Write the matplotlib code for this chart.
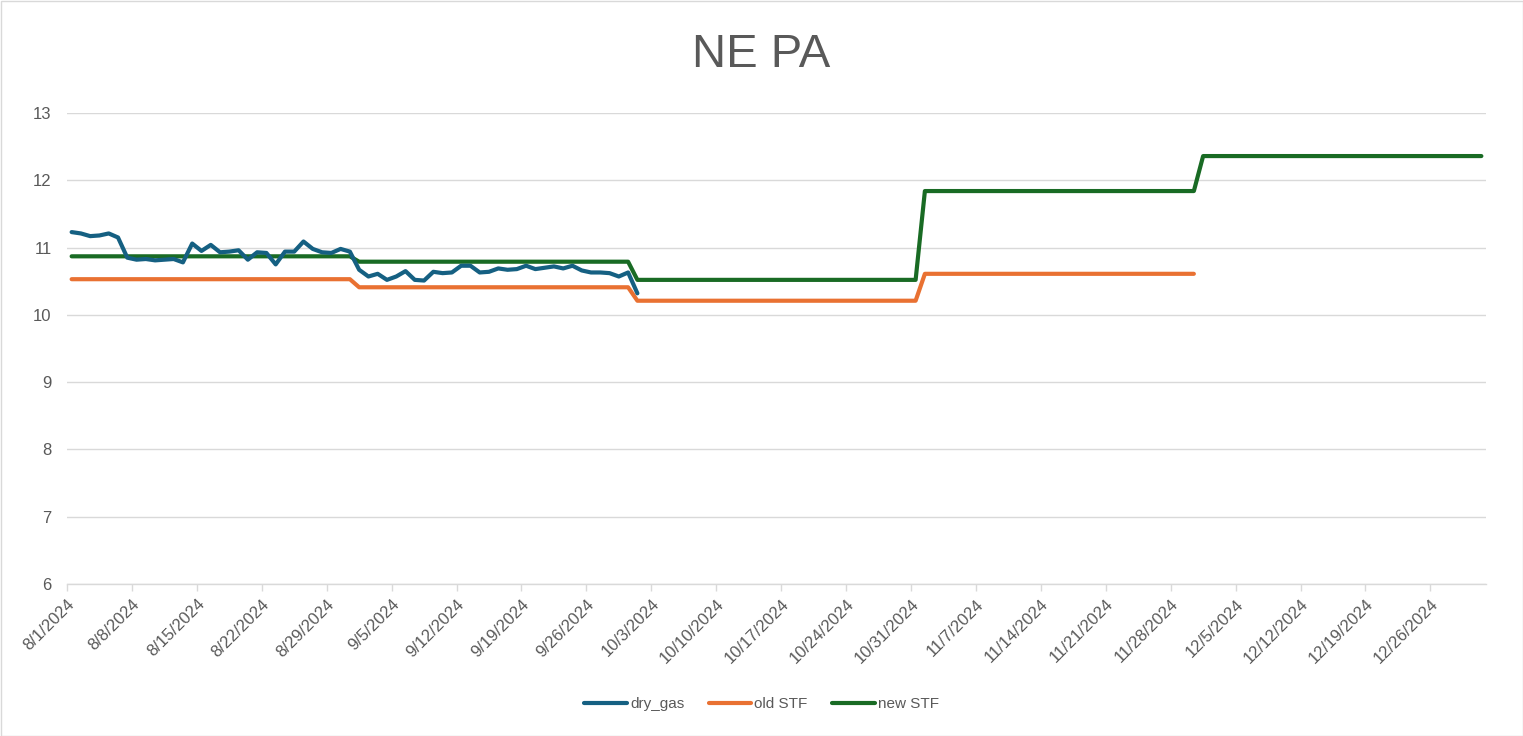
import matplotlib
matplotlib.use("Agg")
import matplotlib.pyplot as plt
import numpy as np
import pandas as pd
from matplotlib.patches import Rectangle

# ---- data ----
title = "NE PA"
start_date = "2024-08-01"
dry_gas = [11.23, 11.21, 11.17, 11.18, 11.21, 11.15, 10.85, 10.82, 10.83, 10.81,
           10.82, 10.83, 10.78, 11.06, 10.95, 11.04, 10.93, 10.94, 10.96, 10.82,
           10.93, 10.92, 10.75, 10.94, 10.94, 11.09, 10.98, 10.93, 10.92, 10.98,
           10.94, 10.67, 10.57, 10.61, 10.52, 10.57, 10.65, 10.52, 10.51, 10.64,
           10.62, 10.63, 10.73, 10.73, 10.63, 10.64, 10.69, 10.67, 10.68, 10.73,
           10.68, 10.70, 10.72, 10.69, 10.73, 10.66, 10.63, 10.63, 10.62, 10.57,
           10.63, 10.32]
months = ["2024-08", "2024-09", "2024-10", "2024-11", "2024-12"]
old_stf_monthly = [10.53, 10.41, 10.21, 10.61]          # Aug-Nov
new_stf_monthly = [10.87, 10.79, 10.52, 11.84, 12.36]   # Aug-Dec
series_names = ["dry_gas", "old STF", "new STF"]
colors = ["#156082", "#E97132", "#196B24"]

# ---- expand monthly values to daily series ----
def daily_from_monthly(vals):
    dates, out = [], []
    for m, v in zip(months, vals):
        p = pd.Period(m, freq="M")
        d = pd.date_range(p.start_time, p.end_time.normalize(), freq="D")
        dates.extend(d)
        out.extend([v] * len(d))
    return pd.DatetimeIndex(dates), out

half = pd.Timedelta(hours=12)
gas_dates = pd.date_range(start_date, periods=len(dry_gas), freq="D") + half
old_dates, old_vals = daily_from_monthly(old_stf_monthly)
new_dates, new_vals = daily_from_monthly(new_stf_monthly)
old_dates = old_dates + half
new_dates = new_dates + half

plt.rcParams["font.family"] = ["Liberation Sans", "DejaVu Sans"]
txt = "#595959"
fs = 12

fig = plt.figure(figsize=(15.23, 7.36), dpi=100)
ax = fig.add_axes([67/1523, 1-584/736, (1486-67)/1523, (584-113)/736])

lw = 3.0
ax.plot(gas_dates, dry_gas, color=colors[0], lw=lw, label=series_names[0],
        solid_capstyle="round", solid_joinstyle="round", zorder=3)
ax.plot(old_dates, old_vals, color=colors[1], lw=lw, label=series_names[1],
        solid_capstyle="round", solid_joinstyle="round", zorder=2)
ax.plot(new_dates, new_vals, color=colors[2], lw=lw, label=series_names[2],
        solid_capstyle="round", solid_joinstyle="round", zorder=2)

ax.set_ylim(6, 13)
ax.set_yticks(range(6, 14))
ax.set_xlim(pd.Timestamp("2024-08-01"), pd.Timestamp("2025-01-01"))
ticks = pd.date_range(start_date, "2024-12-31", freq="7D")
ax.set_xticks(ticks)
ax.set_xticklabels([f"{t.month}/{t.day}/{t.year}" for t in ticks],
                   rotation=45, ha="right", rotation_mode="anchor",
                   fontsize=fs, color=txt)
for lab in ax.get_yticklabels():
    lab.set_fontsize(fs)
    lab.set_color(txt)

ax.grid(axis="y", color="#d9d9d9", lw=1.0)
ax.set_axisbelow(True)
for s in ["top", "right", "left"]:
    ax.spines[s].set_visible(False)
ax.spines["bottom"].set_color("#d9d9d9")
ax.spines["bottom"].set_linewidth(1.0)
ax.tick_params(axis="y", length=0, pad=11)
ax.tick_params(axis="x", length=5, color="#d9d9d9", width=1.0, pad=4)

fig.text(0.5, 1-55/736, title, ha="center", va="center", fontsize=34, color=txt)

leg = fig.legend(loc="center", bbox_to_anchor=(0.5, 1-704/736), ncol=3,
                 frameon=False, fontsize=11, handlelength=2.8,
                 columnspacing=1.6, handletextpad=0.2)
for t in leg.get_texts():
    t.set_color(txt)

fig.patches.append(Rectangle((0.5/1523, 0.5/736), 1-1/1523, 1-1/736,
                             transform=fig.transFigure, fill=False,
                             edgecolor="#d9d9d9", lw=1.0))

fig.savefig("out.png", dpi=100)
